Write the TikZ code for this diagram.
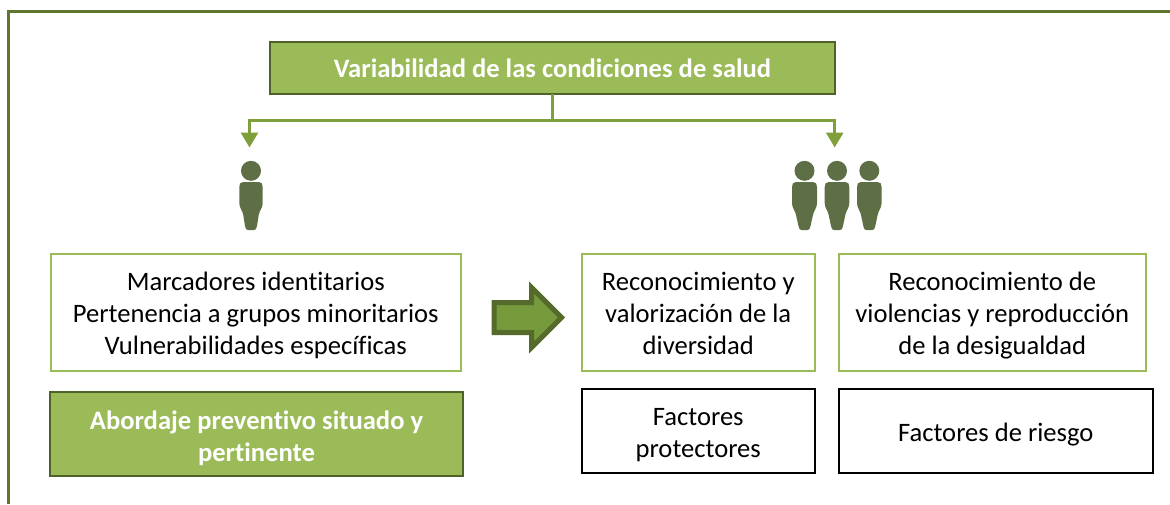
\documentclass[tikz,border=0pt]{standalone}
\usepackage{fontspec}
\setmainfont[Ligatures=CommonOff]{Carlito}
\usetikzlibrary{arrows.meta}
\definecolor{frameG}{HTML}{5F7530}
\definecolor{darkG}{HTML}{4F6228}
\definecolor{fillG}{HTML}{9BBB59}
\definecolor{lineG}{HTML}{7F9F3A}
\definecolor{iconG}{HTML}{5F6F45}
\definecolor{arrG}{HTML}{779B3C}
\definecolor{arrE}{HTML}{556B2B}
\tikzset{
  x=1pt,y=-1pt,
  every node/.style={font=\fontsize{26.6}{32}\selectfont,align=center,inner sep=0pt,outer sep=0pt},
  headbox/.style={draw=darkG,fill=fillG,line width=2pt,text=white,font=\fontsize{26.6}{32}\selectfont\bfseries},
  outlinebox/.style={draw=fillG,line width=2pt,fill=white,text=black},
  blackbox/.style={draw=black,line width=2pt,fill=white,text=black},
  conn/.style={draw=lineG,line width=3pt},
  connarrow/.style={conn,-{Triangle[width=17pt,length=15pt]}},
  personicon/.style={fill=iconG,draw=none},
}
\newcommand{\textdrop}{8pt}
\newcommand{\boxnode}[7]{% style, name, x1, y1, x2, y2, text
  \pgfmathsetmacro{\bw}{#5-#3}\pgfmathsetmacro{\bh}{#6-#4}
  \pgfmathsetmacro{\bx}{(#3+#5)/2}\pgfmathsetmacro{\by}{(#4+#6)/2}
  \node[#1,minimum width=\bw pt,minimum height=\bh pt] (#2) at (\bx,\by) {\vbox{\vskip\textdrop\hbox{\begin{tabular}{@{}c@{}}#7\end{tabular}}}};
}
\newcommand{\personshape}[2]{% centre x, half width of body
  \pgfmathsetmacro{\hw}{#2}
  \fill[personicon] (#1,170.8) circle (10);
  \fill[personicon] ({#1-\hw+4},182) .. controls ({#1-\hw+1},182) and ({#1-\hw},184) .. ({#1-\hw},187)
    -- ({#1-\hw},203) .. controls ({#1-\hw},208) and ({#1-\hw+3},210) .. ({#1-\hw+4},215)
    -- ({#1-6},226) .. controls ({#1-5.6},229) and ({#1-4.5},230) .. ({#1-3},230)
    -- ({#1+3},230) .. controls ({#1+4.5},230) and ({#1+5.6},229) .. ({#1+6},226)
    -- ({#1+\hw-4},215) .. controls ({#1+\hw-3},210) and ({#1+\hw},208) .. ({#1+\hw},203)
    -- ({#1+\hw},187) .. controls ({#1+\hw},184) and ({#1+\hw-1},182) .. ({#1+\hw-4},182) -- cycle;
}
\begin{document}
\begin{tikzpicture}
\useasboundingbox (0,0) rectangle (1170,504);
\draw[frameG,line width=3pt] (8.5,504) -- (8.5,11.5) -- (1170,11.5);
\renewcommand{\textdrop}{6pt}
\boxnode{headbox}{top}{270}{42}{835}{94}{Variabilidad de las condiciones de salud}
\renewcommand{\textdrop}{8pt}
\coordinate (junction) at (top.south |- 0,120.5);
\coordinate (leftEnd) at (249.5,147.5);
\coordinate (rightEnd) at (834.7,147.5);
\draw[conn] (top.south) -- (junction);
\draw[connarrow] (junction) -| (leftEnd);
\draw[connarrow] (junction) -| (rightEnd);
\personshape{251}{11.7}
\personshape{804.5}{12.5}
\personshape{837}{12.3}
\personshape{869.3}{12.3}
\boxnode{outlinebox}{marc}{50.5}{253.5}{461}{371}{Marcadores identitarios\\Pertenencia a grupos minoritarios\\Vulnerabilidades específicas}
\boxnode{outlinebox}{reco}{581.5}{253.5}{815}{371}{Reconocimiento y\\valorización de la\\diversidad}
\boxnode{outlinebox}{viol}{838.5}{253.5}{1146}{371}{Reconocimiento de\\violencias y reproducción\\de la desigualdad}
\renewcommand{\textdrop}{10pt}
\boxnode{headbox}{abor}{50}{391.5}{463}{476}{Abordaje preventivo situado y\\pertinente}
\renewcommand{\textdrop}{8pt}
\boxnode{blackbox}{prot}{581.5}{388.5}{815}{473}{Factores\\protectores}
\boxnode{blackbox}{ries}{838.5}{388.5}{1153}{473}{Factores de riesgo}
\draw[draw=arrE,fill=arrG,line width=5pt,miter limit=10]
  (494,302.5) -- (531.5,302.5) -- (531.5,287.5) -- (561.5,317.5) -- (531.5,347.5) -- (531.5,332.5) -- (494,332.5) -- cycle;
\end{tikzpicture}
\end{document}
